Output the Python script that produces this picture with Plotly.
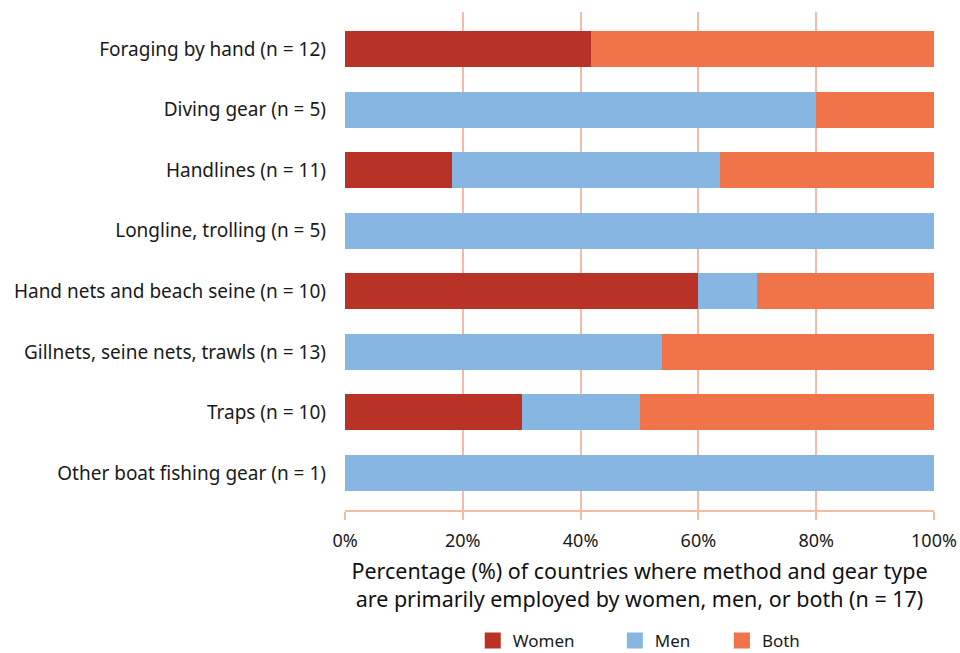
import plotly.graph_objects as go

categories = [
    "Foraging by hand (n = 12)",
    "Diving gear (n = 5)",
    "Handlines (n = 11)",
    "Longline, trolling (n = 5)",
    "Hand nets and beach seine (n = 10)",
    "Gillnets, seine nets, trawls (n = 13)",
    "Traps (n = 10)",
    "Other boat fishing gear (n = 1)",
]
women = [41.7, 0, 18.2, 0, 60, 0, 30, 0]
men = [0, 80, 45.5, 100, 10, 53.8, 20, 100]
both = [58.3, 20, 36.4, 0, 30, 46.2, 50, 0]

series = [("Women", women, "#b83226"), ("Men", men, "#87b6e2"), ("Both", both, "#f0734a")]
legend_pad = [8, 6, 4]

fig = go.Figure()
for name, vals, col in series:
    fig.add_trace(go.Bar(
        y=categories, x=vals, name=name, orientation="h",
        marker=dict(color=col, line=dict(width=0)), width=0.595,
        showlegend=False,
    ))
# legend entries with large square swatches
for (name, vals, col), pad in zip(series, legend_pad):
    fig.add_trace(go.Scatter(
        x=[None], y=[None], mode="markers", name=name + "\u00a0" * pad,
        marker=dict(symbol="square", size=19, color=col),
        showlegend=True,
    ))

grid = "#f4bba8"
fig.update_layout(
    barmode="stack",
    width=960, height=653,
    margin=dict(l=345, r=26, t=12, b=143, autoexpand=False),
    plot_bgcolor="white", paper_bgcolor="white",
    font=dict(family="Noto Sans", size=18, color="#1a1a1a"),
    showlegend=True,
    legend=dict(orientation="h", x=0.514, xanchor="center", y=-0.227, yanchor="top",
                font=dict(size=17), traceorder="normal", itemsizing="trace"),
)
fig.update_xaxes(
    range=[0, 100], tickvals=[0, 20, 40, 60, 80, 100], ticktext=["0%", "20%", "40%", "60%", "80%", "100%"],
    showgrid=True, gridcolor=grid, gridwidth=1.5,
    showline=True, linecolor=grid, linewidth=1.5,
    ticks="outside", ticklen=8, tickcolor=grid, tickwidth=1.5,
    zeroline=False, automargin=False, ticklabelstandoff=6,
    title=dict(text="Percentage (%) of countries where method and gear type<br>are primarily employed by women, men, or both (n = 17)",
               font=dict(size=21.5, color="#111111"), standoff=13),
    tickfont=dict(size=18),
)
fig.update_yaxes(
    categoryorder="array", categoryarray=categories, autorange=False, range=[7.61, -0.61],
    showgrid=False, showline=False, ticks="", ticklabelstandoff=18, automargin=False,
    tickfont=dict(size=19),
)
fig.write_html("out.html")
